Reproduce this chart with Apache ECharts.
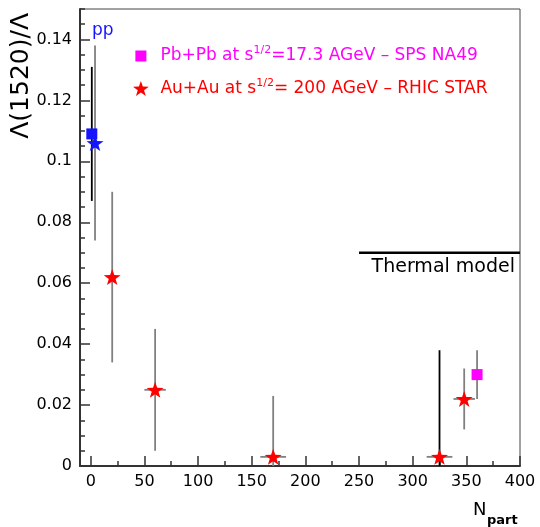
<!DOCTYPE html>
<html><head><meta charset="utf-8">
<script src="https://cdn.jsdelivr.net/npm/echarts@6/dist/echarts.min.js"></script>
<style>html,body{margin:0;padding:0;background:#fff}#c{width:540px;height:527px}</style>
</head><body><div id="c"></div>
<script>
// ---- data ----
const ppSquareX = [1], ppSquareY = [0.109], ppSquareErr = [0.022];
const ppStarX = [4], ppStarY = [0.106], ppStarErr = [0.032];
const auX = [20, 60, 170, 325, 348];
const auY = [0.062, 0.025, 0.003, 0.003, 0.022];
const auYErr = [0.028, 0.020, 0.020, 0.035, 0.010];
const auXErr = [0, 10, 12, 12, 10];
const pbX = [360], pbY = [0.030], pbYErr = [0.008];
const thermalX = [250, 400], thermalY = [0.07, 0.07];
const xTickLabels = [0, 50, 100, 150, 200, 250, 300, 350, 400];
const xMinorTicks = [25, 75, 125, 175, 225, 275, 325, 375];
const yTickLabels = [0, 0.02, 0.04, 0.06, 0.08, 0.1, 0.12, 0.14];
const auName = 'Au+Au at s1/2= 200 AGeV – RHIC STAR';
const pbName = 'Pb+Pb at s1/2=17.3 AGeV – SPS NA49';

const FONT = 'DejaVu Sans';
const STAR = 'path://M50,0L61.76,33.82L97.55,34.55L69.02,56.18L79.39,90.45L50,70L20.61,90.45L30.98,56.18L2.45,34.55L38.24,33.82Z';
const SQUARE_ICON = 'path://M0,0M15,15M2,2L13,2L13,13L2,13Z';
const BLUE = '#1414ff', RED = '#ff0000', MAG = '#ff00ff';
const GRAY = '#808080';

function zip(xs, ys, e1, e2) {
  return xs.map((x, i) => [x, ys[i], e1 ? e1[i] : 0, e2 ? e2[i] : 0]);
}

function errRender(colorFn) {
  return function (params, api) {
    const x = api.value(0), y = api.value(1), ey = api.value(2), ex = api.value(3);
    const top = api.coord([x, y + ey]);
    const bot = api.coord([x, Math.max(y - ey, 0)]);
    const col = colorFn(params.dataIndex);
    const children = [{
      type: 'line',
      shape: { x1: top[0], y1: top[1], x2: bot[0], y2: bot[1] },
      style: { stroke: col, lineWidth: 1.8 }
    }];
    if (ex > 0) {
      const l = api.coord([x - ex, y]), r = api.coord([x + ex, y]);
      children.push({
        type: 'line',
        shape: { x1: l[0], y1: l[1], x2: r[0], y2: r[1] },
        style: { stroke: GRAY, lineWidth: 1.8 }
      });
    }
    return { type: 'group', children: children };
  };
}

const chart = echarts.init(document.getElementById('c'), null, { renderer: 'canvas' });
const grid = { left: 80, right: 20, top: 9, bottom: 61, show: true, borderColor: '#444', borderWidth: 1, containLabel: false };

const axisX = (extra) => Object.assign({
  type: 'value', min: -10, max: 400, position: 'bottom',
  splitLine: { show: false },
}, extra);
const axisY = (extra) => Object.assign({
  type: 'value', min: 0, max: 0.15, position: 'left',
  splitLine: { show: false },
}, extra);

const option = {
  animation: false,
  backgroundColor: '#fff',
  grid: grid,
  xAxis: [
    axisX({
      axisLine: { show: true, onZero: false, lineStyle: { color: '#333', width: 2 } },
      axisTick: { show: true, inside: true, length: 10, customValues: xTickLabels, lineStyle: { color: '#333', width: 1.5 } },
      axisLabel: { show: true, customValues: xTickLabels, margin: 8, fontFamily: FONT, fontSize: 16, color: '#000' }
    }),
    axisX({
      axisLine: { show: false, onZero: false },
      axisTick: { show: true, inside: true, length: 5, customValues: xMinorTicks, lineStyle: { color: '#333', width: 1.5 } },
      axisLabel: { show: false }
    })
  ],
  yAxis: [
    axisY({
      axisLine: { show: true, onZero: false, lineStyle: { color: '#333', width: 2 } },
      axisTick: { show: true, inside: true, length: 10, customValues: yTickLabels, lineStyle: { color: '#333', width: 1.5 } },
      axisLabel: { show: true, customValues: yTickLabels, margin: 8, fontFamily: FONT, fontSize: 16, color: '#000' }
    }),
    axisY({
      interval: 0.005,
      axisLine: { show: false, onZero: false },
      axisTick: { show: true, inside: true, length: 5, lineStyle: { color: '#333', width: 1.5 } },
      axisLabel: { show: false }
    })
  ],
  legend: {
    orient: 'vertical',
    left: 128, top: 40,
    itemWidth: 29, itemHeight: 15, itemGap: 13,
    selectedMode: false,
    data: [
      { name: pbName, icon: SQUARE_ICON, textStyle: { color: MAG } },
      { name: auName, icon: STAR, textStyle: { color: RED } }
    ],
    formatter: function (name) {
      const parts = name.split('s1/2');
      return '{m|' + parts[0] + 's}{sup|1/2}{m|' + parts[1] + '}';
    },
    textStyle: {
      fontFamily: FONT, fontSize: 17,
      rich: {
        m: { fontFamily: FONT, fontSize: 17, lineHeight: 22 },
        sup: { fontFamily: FONT, fontSize: 11, lineHeight: 11, verticalAlign: 'top' }
      }
    }
  },
  series: [
    { type: 'custom', name: 'pp square err', z: 2, silent: true,
      renderItem: errRender(() => '#000'), data: zip(ppSquareX, ppSquareY, ppSquareErr) },
    { type: 'custom', name: 'pp star err', z: 2, silent: true,
      renderItem: errRender(() => GRAY), data: zip(ppStarX, ppStarY, ppStarErr) },
    { type: 'custom', name: 'AuAu err', z: 2, silent: true,
      renderItem: errRender((i) => auX[i] === 325 ? '#000' : GRAY), data: zip(auX, auY, auYErr, auXErr) },
    { type: 'custom', name: 'PbPb err', z: 2, silent: true,
      renderItem: errRender(() => GRAY), data: zip(pbX, pbY, pbYErr) },
    { type: 'line', name: 'Thermal model', data: thermalX.map((x, i) => [x, thermalY[i]]),
      symbol: 'none', lineStyle: { color: '#000', width: 2.5 }, z: 3, silent: true },
    { type: 'scatter', name: 'pp square', data: ppSquareX.map((x, i) => [x, ppSquareY[i]]),
      symbol: 'rect', symbolSize: 11, itemStyle: { color: BLUE, opacity: 1 }, z: 5 },
    { type: 'scatter', name: 'pp star', data: ppStarX.map((x, i) => [x, ppStarY[i]]),
      symbol: STAR, symbolSize: [17, 16], itemStyle: { color: BLUE, opacity: 1 }, z: 6 },
    { type: 'scatter', name: auName, data: auX.map((x, i) => [x, auY[i]]),
      symbol: STAR, symbolSize: [17, 16], itemStyle: { color: RED, opacity: 1 }, z: 6 },
    { type: 'scatter', name: pbName, data: pbX.map((x, i) => [x, pbY[i]]),
      symbol: 'rect', symbolSize: 11, itemStyle: { color: MAG, opacity: 1 }, z: 5 }
  ],
  graphic: [
    { type: 'text', x: 21, y: 13, rotation: Math.PI / 2,
      style: { text: 'Λ(1520)/Λ', fontFamily: FONT, fontSize: 25, fill: '#000', align: 'right', verticalAlign: 'middle' } },
    { type: 'text', x: 473, y: 510,
      style: { text: 'N', fontFamily: FONT, fontSize: 18, fill: '#000', align: 'left', verticalAlign: 'middle' } },
    { type: 'text', x: 487, y: 521,
      style: { text: 'part', fontFamily: FONT, fontSize: 13, fontWeight: 'bold', fill: '#000', align: 'left', verticalAlign: 'middle' } },
    { type: 'text', x: 92, y: 31,
      style: { text: 'pp', fontFamily: FONT, fontSize: 17, fill: BLUE, align: 'left', verticalAlign: 'middle' } },
    { type: 'text', x: 515, y: 267,
      style: { text: 'Thermal model', fontFamily: FONT, fontSize: 19, fill: '#000', align: 'right', verticalAlign: 'middle' } }
  ]
};
chart.setOption(option);
</script>
</body></html>
